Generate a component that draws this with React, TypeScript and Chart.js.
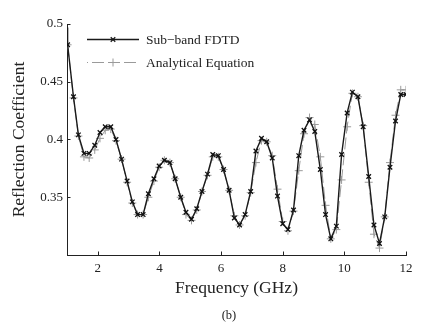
import React, { useEffect, useRef } from "react";
import { Chart, registerables } from "chart.js";

Chart.register(...registerables);

const FONT = '"Liberation Serif", "Times New Roman", serif';

// Frequencies (GHz) of the marked samples
const freqs = [
  1.02, 1.21, 1.37, 1.55, 1.72, 1.9, 2.07, 2.24, 2.42, 2.59,
  2.77, 2.95, 3.12, 3.29, 3.47, 3.64, 3.82, 3.99, 4.16, 4.34,
  4.51, 4.69, 4.86, 5.04, 5.21, 5.38, 5.56, 5.73, 5.91, 6.08,
  6.26, 6.43, 6.6, 6.78, 6.96, 7.13, 7.31, 7.48, 7.66, 7.83,
  8.0, 8.17, 8.35, 8.52, 8.69, 8.87, 9.04, 9.22, 9.39, 9.56,
  9.74, 9.91, 10.09, 10.26, 10.44, 10.61, 10.79, 10.96, 11.14, 11.31,
  11.48, 11.66, 11.83, 12.0,
];

// Sub-band FDTD: leading start point, then marked samples
const fdtdStartFreq = 1.0;
const fdtdStartValue = 0.497;
const fdtdValues = [
  0.482, 0.437, 0.404, 0.388, 0.388, 0.395, 0.406, 0.411, 0.411, 0.400,
  0.383, 0.364, 0.346, 0.335, 0.335, 0.353, 0.366, 0.377, 0.382, 0.380,
  0.366, 0.350, 0.337, 0.331, 0.340, 0.355, 0.370, 0.387, 0.386, 0.374,
  0.356, 0.332, 0.326, 0.335, 0.355, 0.390, 0.401, 0.398, 0.384, 0.351,
  0.327, 0.322, 0.339, 0.386, 0.408, 0.417, 0.407, 0.374, 0.335, 0.314,
  0.325, 0.387, 0.423, 0.441, 0.437, 0.411, 0.368, 0.326, 0.310, 0.333,
  0.376, 0.416, 0.439, 0.439,
];

// Analytical Equation
const analyticalValues = [
  0.482, 0.436, 0.403, 0.385, 0.384, 0.391, 0.401, 0.408, 0.409, 0.399,
  0.383, 0.363, 0.345, 0.335, 0.335, 0.350, 0.364, 0.376, 0.382, 0.380,
  0.366, 0.350, 0.335, 0.330, 0.339, 0.355, 0.369, 0.385, 0.385, 0.374,
  0.356, 0.334, 0.326, 0.334, 0.354, 0.380, 0.399, 0.398, 0.386, 0.357,
  0.329, 0.321, 0.338, 0.373, 0.405, 0.419, 0.413, 0.385, 0.343, 0.314,
  0.322, 0.365, 0.411, 0.440, 0.437, 0.412, 0.363, 0.318, 0.306, 0.333,
  0.380, 0.421, 0.443, 0.443,
];

const seriesLabels = ["Sub\u2212band FDTD", "Analytical Equation"];
const xTicks = [2, 4, 6, 8, 10, 12];
const xTickLabels = ["2", "4", "6", "8", "10", "12"];
const yTicks = [0.35, 0.4, 0.45, 0.5];
const yTickLabels = ["0.35", "0.4", "0.45", "0.5"];

const FDTD_COLOR = "#1a1a1a";
const ANA_COLOR = "#9a9a9a";
const DASH = [12, 4];

function drawMarker(ctx: CanvasRenderingContext2D, kind: string, x: number, y: number, r: number, color: string, w: number) {
  ctx.save();
  ctx.setLineDash([]);
  ctx.strokeStyle = color;
  ctx.lineWidth = w;
  ctx.beginPath();
  if (kind === "crossRot") {
    const d = r * Math.SQRT1_2;
    ctx.moveTo(x - d, y - d);
    ctx.lineTo(x + d, y + d);
    ctx.moveTo(x - d, y + d);
    ctx.lineTo(x + d, y - d);
  } else {
    ctx.moveTo(x - r, y);
    ctx.lineTo(x + r, y);
    ctx.moveTo(x, y - r);
    ctx.lineTo(x, y + r);
  }
  ctx.stroke();
  ctx.restore();
}

const overlayPlugin = {
  id: "overlay",
  afterDraw(chart: any) {
    const ctx: CanvasRenderingContext2D = chart.ctx;
    const xs = chart.scales.x;
    const ys = chart.scales.y;
    const area = chart.chartArea;
    ctx.save();
    // inward tick marks
    ctx.strokeStyle = "#222";
    ctx.lineWidth = 1;
    ctx.beginPath();
    for (const v of xTicks) {
      const p = Math.round(xs.getPixelForValue(v)) + 0.5;
      ctx.moveTo(p, area.bottom);
      ctx.lineTo(p, area.bottom - 3.5);
    }
    for (const v of yTicks) {
      const p = Math.round(ys.getPixelForValue(v)) + 0.5;
      ctx.moveTo(area.left, p);
      ctx.lineTo(area.left + 3.5, p);
    }
    ctx.stroke();

    // legend
    const items = [
      { label: seriesLabels[0], color: FDTD_COLOR, dash: [] as number[], width: 1.4, marker: "crossRot", r: 3.2, mw: 1.3 },
      { label: seriesLabels[1], color: ANA_COLOR, dash: DASH, width: 1, marker: "cross", r: 4, mw: 1 },
    ];
    const x0 = area.left + 20;
    const x1 = area.left + 72;
    items.forEach((it, i) => {
      const y = area.top + 15.5 + i * 23;
      ctx.save();
      ctx.strokeStyle = it.color;
      ctx.lineWidth = it.width;
      ctx.setLineDash(it.dash);
      ctx.lineDashOffset = it.dash.length ? 11 : 0;
      ctx.beginPath();
      ctx.moveTo(x0, y);
      ctx.lineTo(x1, y);
      ctx.stroke();
      ctx.restore();
      drawMarker(ctx, it.marker, (x0 + x1) / 2, y, it.r, it.color, it.mw);
      ctx.fillStyle = "#222";
      ctx.font = `13.5px ${FONT}`;
      ctx.textBaseline = "middle";
      ctx.textAlign = "left";
      ctx.fillText(it.label, area.left + 79, y + 0.5);
    });
    ctx.restore();
  },
};

export default function App() {
  const canvasRef = useRef<HTMLCanvasElement | null>(null);

  useEffect(() => {
    const canvas = canvasRef.current;
    if (!canvas) return;
    const fdtdData = [{ x: fdtdStartFreq, y: fdtdStartValue }].concat(
      freqs.map((f, i) => ({ x: f, y: fdtdValues[i] }))
    );
    const anaData = freqs.map((f, i) => ({ x: f, y: analyticalValues[i] }));

    const chart = new Chart(canvas, {
      type: "line",
      data: {
        datasets: [
          {
            label: seriesLabels[0],
            data: fdtdData,
            borderColor: FDTD_COLOR,
            backgroundColor: FDTD_COLOR,
            borderWidth: 1.4,
            pointStyle: "crossRot",
            pointRadius: (c: any) => (c.dataIndex === 0 ? 0 : 3.2),
            pointBorderColor: "#111",
            pointBorderWidth: 1.3,
            tension: 0,
            fill: false,
          },
          {
            label: seriesLabels[1],
            data: anaData,
            borderColor: ANA_COLOR,
            backgroundColor: ANA_COLOR,
            borderWidth: 1,
            borderDash: DASH,
            pointStyle: "cross",
            pointRadius: 4,
            pointBorderColor: ANA_COLOR,
            pointBorderWidth: 1,
            tension: 0,
            fill: false,
          },
        ],
      } as any,
      options: {
        animation: false,
        responsive: false,
        devicePixelRatio: 1,
        layout: { padding: { left: 0, top: 24, right: 41, bottom: 0 } },
        plugins: {
          legend: { display: false },
          tooltip: { enabled: false },
        },
        scales: {
          x: {
            type: "linear",
            min: 1,
            max: 12,
            afterBuildTicks: (s: any) => {
              s.ticks = xTicks.map((v) => ({ value: v }));
            },
            afterFit: (s: any) => {
              s.height = 72;
            },
            grid: { display: false, drawTicks: false },
            border: { display: true, color: "#222", width: 1 },
            ticks: {
              padding: 6,
              color: "#222",
              maxRotation: 0,
              autoSkip: false,
              font: { family: FONT, size: 13 },
              callback: (v: any) => {
                const i = xTicks.indexOf(Number(v));
                return i >= 0 ? xTickLabels[i] : "";
              },
            },
            title: {
              display: true,
              text: "Frequency (GHz)",
              color: "#222",
              font: { family: FONT, size: 17.5 },
              padding: { top: 0, bottom: 28 },
            },
          },
          y: {
            type: "linear",
            min: 0.3,
            max: 0.5,
            afterBuildTicks: (s: any) => {
              s.ticks = yTicks.map((v) => ({ value: v }));
            },
            afterFit: (s: any) => {
              s.width = 67;
            },
            grid: { display: false, drawTicks: false },
            border: { display: true, color: "#222", width: 1 },
            ticks: {
              padding: 4,
              color: "#222",
              autoSkip: false,
              font: { family: FONT, size: 13 },
              callback: (v: any) => {
                const i = yTicks.findIndex((t) => Math.abs(t - Number(v)) < 1e-9);
                return i >= 0 ? yTickLabels[i] : "";
              },
            },
            title: {
              display: true,
              text: "Reflection Coefficient",
              color: "#222",
              font: { family: FONT, size: 17.5 },
              padding: { top: 9, bottom: 0 },
            },
          },
        },
      } as any,
      plugins: [overlayPlugin],
    });
    return () => chart.destroy();
  }, []);

  return (
    <div
      style={{
        position: "fixed",
        left: 0,
        top: 0,
        width: 447,
        height: 327,
        background: "#fff",
        overflow: "hidden",
      }}
    >
      <canvas ref={canvasRef} width={447} height={327} style={{ display: "block", width: 447, height: 327 }} />
      <div
        style={{
          position: "absolute",
          left: 200,
          top: 308,
          width: 58,
          textAlign: "center",
          fontFamily: FONT,
          fontSize: 12.5,
          lineHeight: "14px",
          color: "#222",
        }}
      >
        (b)
      </div>
    </div>
  );
}
